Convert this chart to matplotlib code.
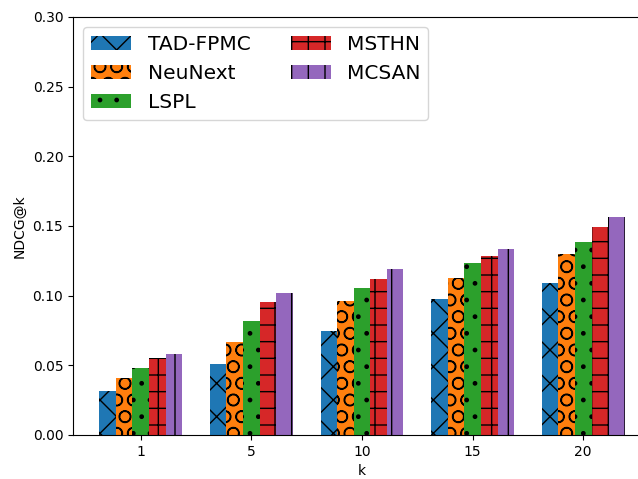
import numpy as np
import matplotlib
matplotlib.use("Agg")
import matplotlib.pyplot as plt

# NDCG@k results for each method
k_values = ["1", "5", "10", "15", "20"]
methods = ["TAD-FPMC", "NeuNext", "LSPL", "MSTHN", "MCSAN"]
tad_fpmc = [0.0314, 0.0507, 0.0746, 0.0974, 0.1093]
neunext = [0.0407, 0.0665, 0.0960, 0.1129, 0.1299]
lspl = [0.0479, 0.0818, 0.1057, 0.1232, 0.1387]
msthn = [0.0550, 0.0952, 0.1120, 0.1287, 0.1495]
mcsan = [0.0579, 0.1021, 0.1194, 0.1335, 0.1562]

series = [tad_fpmc, neunext, lspl, msthn, mcsan]
colors = ["#1f77b4", "#ff7f0e", "#2ca02c", "#d62728", "#9467bd"]
hatches = ["x", "O", ".", "+", "|"]

fig = plt.figure(figsize=(6.38, 4.79), dpi=100)
W, H = 638, 479
ax = fig.add_axes([73 / W, (H - 435) / H, 578 / W, 418 / H])

x = np.arange(len(k_values))
width = 0.15
for i, (vals, name) in enumerate(zip(series, methods)):
    ax.bar(x + (i - 2) * width, vals, width, color=colors[i],
           hatch=hatches[i], label=name)

ax.set_xticks(x)
ax.set_xticklabels(k_values)
ax.set_ylim(0, 0.30)
ax.set_yticks(np.arange(0, 0.301, 0.05))
ax.set_xlabel("k")
ax.set_ylabel("NDCG@k")
ax.legend(loc="upper left", ncol=2, fontsize=14.5)

fig.savefig("out.png", dpi=100)
